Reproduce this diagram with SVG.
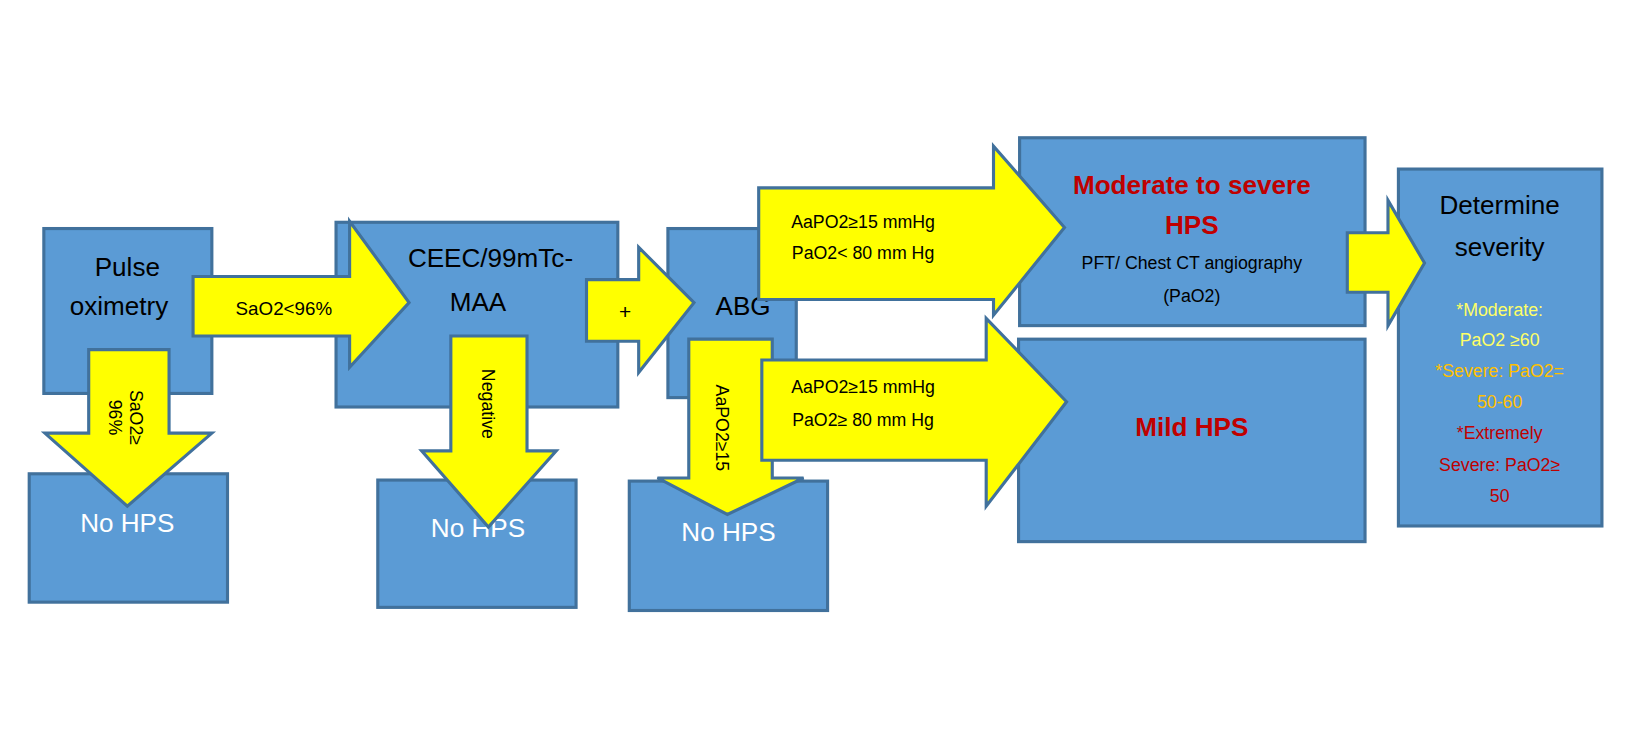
<svg xmlns="http://www.w3.org/2000/svg" width="1628" height="729" viewBox="0 0 1628 729">
<style>
.box{fill:#5b9bd5;stroke:#41719c;stroke-width:3}
.arr{fill:#ffff00;stroke:#41719c;stroke-width:3;stroke-linejoin:miter}
text{font-family:"Liberation Sans",Arial,sans-serif;text-anchor:middle}
.big{font-size:25px;fill:#000}
.w{font-size:25px;fill:#fff}
.s{font-size:17px;fill:#000}
.red{font-size:25px;fill:#c00000;font-weight:bold}
</style>
<rect width="1628" height="729" fill="#fff"/>
<g transform="scale(1.0436)">
<g id="n-pulse"><rect class="box" x="42" y="219" width="161" height="158"/>
<text class="big" x="122" y="264">Pulse</text><text class="big" x="114" y="302">oximetry</text></g>
<g id="n-nohps1"><rect class="box" x="28" y="454" width="190" height="123"/><text class="w" x="122" y="510">No HPS</text></g>
<g id="n-ceec"><rect class="box" x="322" y="213" width="270" height="177"/>
<text class="big" x="470" y="256">CEEC/99mTc-</text><text class="big" x="458" y="298">MAA</text></g>
<g id="n-nohps2"><rect class="box" x="362" y="460" width="190" height="122"/><text class="w" x="458" y="515">No HPS</text></g>
<g id="n-abg"><rect class="box" x="640" y="219" width="123" height="162"/><text class="big" x="712" y="302">ABG</text></g>
<g id="n-nohps3"><rect class="box" x="603" y="461" width="190" height="124"/><text class="w" x="698" y="518">No HPS</text></g>
<g id="n-mod"><rect class="box" x="977" y="132" width="331" height="180"/></g>
<g id="n-mild"><rect class="box" x="976" y="325" width="332" height="194"/></g>
<g id="n-det"><rect class="box" x="1340" y="162" width="195" height="342"/></g>
<g id="connectors">
<polygon class="arr" points="85,335 162,335 162,415 203,415 122,485 43,415 85,415"/>
<polygon class="arr" points="185,265 335,265 335,212 392,290 335,352 335,322 185,322"/>
<polygon class="arr" points="432,322 505,322 505,432 533,432 468,505 404,432 432,432"/>
<polygon class="arr" points="562,268 612,268 612,237 665,290 612,357 612,327 562,327"/>
<polygon class="arr" points="660,325 740,325 740,458 770,458 697,493 630,458 660,458"/>
<polygon class="arr" points="727,180 952,180 952,140 1020,218 952,302 952,287 727,287"/>
<polygon class="arr" points="730,345 945,345 945,305 1022,385 945,485 945,441 730,441"/>
<polygon class="arr" points="1291,223 1330,223 1330,192 1365,252 1330,312 1330,280 1291,280"/>
</g>
<g id="labels">
<text class="s" x="272" y="302" style="font-size:18px">SaO2&lt;96%</text>
<text class="s" x="599" y="306" style="font-size:20px">+</text>
<text class="s" transform="translate(125,400) rotate(90)">SaO2≥</text>
<text class="s" transform="translate(104,400) rotate(90)">96%</text>
<text class="s" transform="translate(462,387) rotate(90)">Negative</text>
<text class="s" transform="translate(686,410) rotate(90)">AaPO2≥15</text>
<text class="s" x="827" y="218">AaPO2≥15 mmHg</text>
<text class="s" x="827" y="248">PaO2&lt; 80 mm Hg</text>
<text class="s" x="827" y="377">AaPO2≥15 mmHg</text>
<text class="s" x="827" y="408">PaO2≥ 80 mm Hg</text>
<text class="red" x="1142" y="186">Moderate to severe</text>
<text class="red" x="1142" y="224">HPS</text>
<text class="s" x="1142" y="258">PFT/ Chest CT angiography</text>
<text class="s" x="1142" y="289">(PaO2)</text>
<text class="red" x="1142" y="418">Mild HPS</text>
<text class="big" x="1437" y="205">Determine</text>
<text class="big" x="1437" y="245">severity</text>
<text class="s" x="1437" y="303" style="fill:#ffff66">*Moderate:</text>
<text class="s" x="1437" y="332" style="fill:#ffff66">PaO2 ≥60</text>
<text class="s" x="1437" y="361" style="fill:#ffc000">*Severe: PaO2=</text>
<text class="s" x="1437" y="391" style="fill:#ffc000">50-60</text>
<text class="s" x="1437" y="421" style="fill:#c00000">*Extremely</text>
<text class="s" x="1437" y="451" style="fill:#c00000">Severe: PaO2≥</text>
<text class="s" x="1437" y="481" style="fill:#c00000">50</text>
</g>
</g>
</svg>
